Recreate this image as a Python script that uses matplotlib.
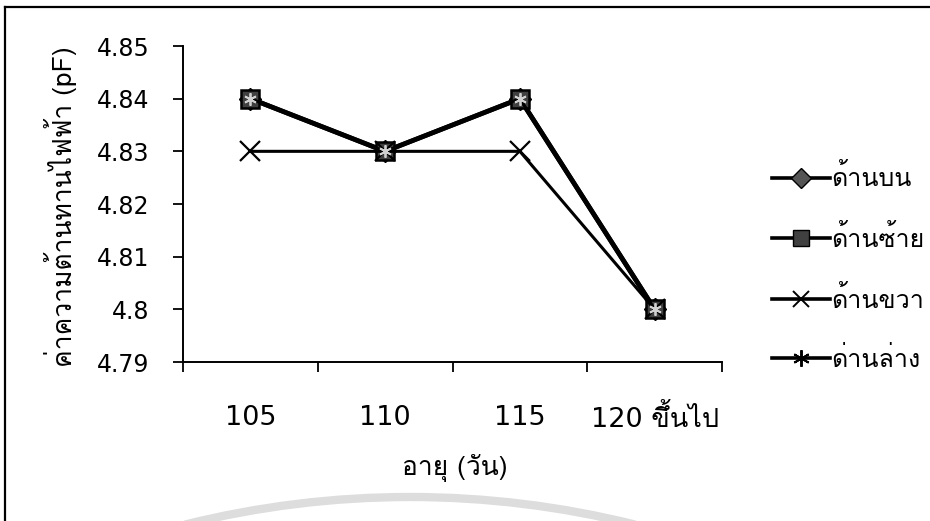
import matplotlib
matplotlib.use("Agg")
import matplotlib.pyplot as plt
from matplotlib.lines import Line2D
from matplotlib.patches import Arc
from matplotlib.transforms import IdentityTransform

plt.rcParams['font.family'] = ['Loma', 'DejaVu Sans']

# อายุ (วัน)
ages = ['105', '110', '115', '120 ขึ้นไป']
# ค่าความต้านทานไฟฟ้า (pF) แต่ละด้าน
top = [4.84, 4.83, 4.84, 4.80]
left = [4.84, 4.83, 4.84, 4.80]
right = [4.83, 4.83, 4.83, 4.80]
bottom = [4.84, 4.83, 4.84, 4.80]
series_names = ['ด้านบน', 'ด้านซ้าย', 'ด้านขวา', 'ด่านล่าง']
yticks = [4.79, 4.80, 4.81, 4.82, 4.83, 4.84, 4.85]
ytick_labels = ['4.79', '4.8', '4.81', '4.82', '4.83', '4.84', '4.85']

fig = plt.figure(figsize=(9.3, 5.21), dpi=100)
ax = fig.add_axes([183/930, 1-362/521, (722-183)/930, (362-46)/521])

x = range(len(ages))
ax.plot(x, top, color='k', lw=3.4, marker='D', ms=11, mfc='#555555', mec='k')
ax.plot(x, left, color='k', lw=3.4, marker='s', ms=13.5, mfc='#404040', mec='k', mew=1.8)
ax.plot(x, right, color='k', lw=2.2, marker='x', ms=14, mew=1.6)
ax.plot(x, bottom, color='k', lw=2.2, marker=(6, 2, 0), ms=9, mec='#d0d0d0', mew=1.3)

ax.set_ylim(4.79, 4.85)
ax.set_yticks(yticks)
ax.set_yticklabels(ytick_labels, family='DejaVu Sans')
ax.set_xlim(-0.5, len(ages) - 0.5)
# ticks between categories, labels under each category
ax.set_xticks([i - 0.5 for i in range(len(ages) + 1)])
ax.set_xticklabels([])
ax.set_xticks(list(x), minor=True)
ax.set_xticklabels(ages, minor=True, family=['DejaVu Sans', 'Loma'])
ax.tick_params(axis='x', which='major', direction='out', length=7, width=1.3)
ax.tick_params(axis='x', which='minor', length=0, pad=31, labelsize=19.5)
ax.tick_params(axis='y', direction='out', length=7, width=1.3, pad=17, labelsize=17)

for s in ['top', 'right']:
    ax.spines[s].set_visible(False)
for s in ['left', 'bottom']:
    ax.spines[s].set_linewidth(1.4)

ax.set_ylabel('ค่าความต้านทานไฟฟ้า (pF)', fontsize=19)
ax.yaxis.set_label_coords(-0.197, 0.49)
ax.set_xlabel('อายุ (วัน)', fontsize=19)
ax.xaxis.set_label_coords(0.504, -0.29)

handles = [
    Line2D([], [], color='k', lw=2.6, marker='D', ms=10, mfc='#555555', mec='k'),
    Line2D([], [], color='k', lw=2.6, marker='s', ms=12, mfc='#404040', mec='k'),
    Line2D([], [], color='k', lw=2.6, marker='x', ms=11, mew=1.4),
    Line2D([], [], color='k', lw=2.6, marker=(6, 2, 0), ms=12, mew=1.4),
]
fig.legend(handles, series_names, loc='center left', bbox_to_anchor=(749/930, 1-268/521),
           frameon=False, fontsize=18, handlelength=2.35, handletextpad=0.05,
           labelspacing=1.35)

# outer frame
fig.add_artist(Line2D([5/930, 5/930], [0, 1-7/521], color='k', lw=1.6, transform=fig.transFigure))
fig.add_artist(Line2D([5/930, 1], [1-7/521, 1-7/521], color='k', lw=1.6, transform=fig.transFigure))

# faint arc along the bottom edge
fig.add_artist(Arc((410, -907), 2*931, 2*931, theta1=76, theta2=104, color='#dddddd',
                   lw=6, transform=IdentityTransform()))

fig.savefig('out.png', dpi=100)
